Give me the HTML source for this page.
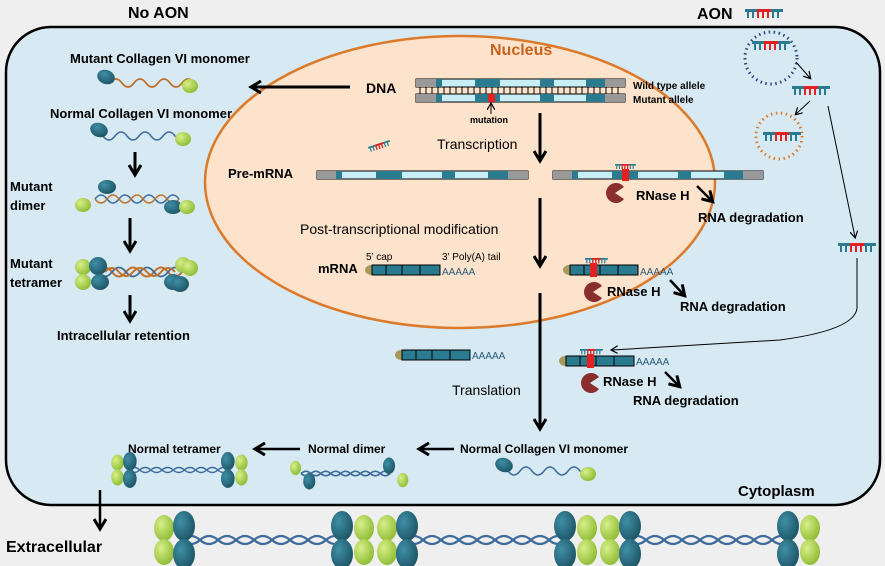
<!DOCTYPE html>
<html><head><meta charset="utf-8"><style>
html,body{margin:0;padding:0;background:#efefef;}
svg{display:block;font-family:"Liberation Sans",sans-serif;}
.b{font-weight:bold;}
</style></head><body>
<svg width="885" height="566" viewBox="0 0 885 566" xmlns="http://www.w3.org/2000/svg">
<defs>
<radialGradient id="tg" cx="0.35" cy="0.35" r="0.7"><stop offset="0" stop-color="#3f8fa5"/><stop offset="1" stop-color="#1d5566"/></radialGradient>
<radialGradient id="gg" cx="0.35" cy="0.35" r="0.7"><stop offset="0" stop-color="#d8ef8a"/><stop offset="1" stop-color="#8dbb32"/></radialGradient>
<marker id="ah" markerWidth="8" markerHeight="8" refX="6" refY="4" orient="auto" markerUnits="userSpaceOnUse"><path d="M0,0 L7,4 L0,8" fill="none" stroke="#000" stroke-width="1.2"/></marker>
<marker id="AH" markerWidth="14" markerHeight="14" refX="10" refY="7" orient="auto" markerUnits="userSpaceOnUse"><path d="M1,1 L11,7 L1,13" fill="none" stroke="#000" stroke-width="3"/></marker>
<g id="aon"><rect x="0" y="0" width="38" height="3" fill="#2a7a90"/><rect x="12" y="0" width="14" height="3" fill="#e52020"/>
<path d="M3,3v6M8,3v6M13,3v6M18,3v6M23,3v6M28,3v6M33,3v6" stroke="#2a7a90" stroke-width="2"/>
<path d="M13,3v6M18,3v6M23,3v6" stroke="#e52020" stroke-width="2"/></g>
<g id="mono"><path d="M10,3 q6,8 12,0 t12,0 t12,0 t12,0 t12,0 t12,0 t12,0" fill="none" stroke="#3d6a9a" stroke-width="1.5"/>
<ellipse cx="6" cy="-3" rx="9" ry="7" transform="rotate(20 6 -3)" fill="url(#tg)"/><ellipse cx="90" cy="6" rx="8" ry="7" fill="url(#gg)"/></g>
<g id="tet"><path d="M30,0 q9,-8 18,0 t18,0 t18,0 t18,0 t18,0 t18,0 t18,0 t18,0 t18,0" fill="none" stroke="#3d6a9a" stroke-width="2.2"/>
<path d="M30,0 q9,8 18,0 t18,0 t18,0 t18,0 t18,0 t18,0 t18,0 t18,0 t18,0" fill="none" stroke="#3d6a9a" stroke-width="2.2"/>
<ellipse cx="12" cy="-12" rx="10" ry="13" fill="url(#gg)"/><ellipse cx="12" cy="12" rx="10" ry="13" fill="url(#gg)"/>
<ellipse cx="32" cy="-14" rx="11" ry="15" fill="url(#tg)"/><ellipse cx="32" cy="14" rx="11" ry="15" fill="url(#tg)"/>
<ellipse cx="190" cy="-14" rx="11" ry="15" fill="url(#tg)"/><ellipse cx="190" cy="14" rx="11" ry="15" fill="url(#tg)"/>
<ellipse cx="212" cy="-12" rx="10" ry="13" fill="url(#gg)"/><ellipse cx="212" cy="12" rx="10" ry="13" fill="url(#gg)"/></g>
<g id="mrna"><ellipse cx="3" cy="5" rx="6" ry="5" fill="#a89a5c"/><rect x="4" y="0" width="68" height="10" fill="#2a7a90" stroke="#000" stroke-width="1"/>
<path d="M18,0v10M34,0v10M52,0v10" stroke="#000"/></g>
<g id="pac"><path d="M10,10 L19,4 A10,10 0 1 0 19,16 Z" fill="#8b2e2e"/></g>
</defs>
<rect width="885" height="566" fill="#efefef"/>
<rect x="6" y="27" width="874" height="478" rx="45" fill="#d7eaf4" stroke="#000" stroke-width="2.5"/>
<ellipse cx="460" cy="182" rx="255" ry="146" fill="#fde3cc" stroke="#dc7a2c" stroke-width="2.5"/>
<text x="128" y="18" class="b" font-size="16">No AON</text>
<text x="697" y="19" class="b" font-size="16">AON</text>
<use href="#aon" x="745" y="9"/>
<circle cx="771" cy="58" r="26" fill="none" stroke="#2b4b7c" stroke-width="3" stroke-dasharray="1.5 3.5"/>
<use href="#aon" x="752" y="41"/>
<circle cx="779" cy="136" r="23" fill="none" stroke="#e07b2a" stroke-width="3" stroke-dasharray="1.5 3.5"/>
<use href="#aon" x="763" y="132"/>
<use href="#aon" x="792" y="86"/>
<use href="#aon" x="838" y="243"/>
<line x1="796" y1="62" x2="810" y2="78" stroke="#000" marker-end="url(#ah)"/>
<line x1="810" y1="101" x2="796" y2="114" stroke="#000" marker-end="url(#ah)"/>
<line x1="828" y1="106" x2="855" y2="237" stroke="#000" marker-end="url(#ah)"/>
<path d="M857,258 L857,308 Q855,330 780,340 Q700,345 612,350" fill="none" stroke="#000" marker-end="url(#ah)"/>
<text x="490" y="55" class="b" font-size="16" fill="#c8621c">Nucleus</text>
<text x="366" y="93" class="b" font-size="14">DNA</text>
<g stroke="#000" stroke-width="1">
<rect x="416" y="79" width="209" height="8" fill="#c8eef8"/>
<rect x="416" y="94" width="209" height="8" fill="#c8eef8"/>
</g>
<g fill="#2a7a90"><rect x="416" y="79" width="20" height="8" fill="#999"/><rect x="436" y="79" width="6" height="8"/><rect x="475" y="79" width="25" height="8"/><rect x="540" y="79" width="14" height="8"/><rect x="586" y="79" width="19" height="8"/><rect x="605" y="79" width="20" height="8" fill="#999"/>
<rect x="416" y="94" width="20" height="8" fill="#999"/><rect x="436" y="94" width="6" height="8"/><rect x="475" y="94" width="25" height="8"/><rect x="540" y="94" width="14" height="8"/><rect x="586" y="94" width="19" height="8"/><rect x="605" y="94" width="20" height="8" fill="#999"/></g>
<rect x="488" y="94" width="7" height="8" fill="#e52020"/>
<path d="M420,87v7M426,87v7M432,87v7M438,87v7M444,87v7M450,87v7M456,87v7M462,87v7M468,87v7M474,87v7M480,87v7M486,87v7M492,87v7M498,87v7M504,87v7M510,87v7M516,87v7M522,87v7M528,87v7M534,87v7M540,87v7M546,87v7M552,87v7M558,87v7M564,87v7M570,87v7M576,87v7M582,87v7M588,87v7M594,87v7M600,87v7M606,87v7M612,87v7M618,87v7" stroke="#000" stroke-width="1"/>
<text x="633" y="89" class="b" font-size="10">Wild type allele</text>
<text x="633" y="103" class="b" font-size="10">Mutant allele</text>
<line x1="491" y1="114" x2="491" y2="104" stroke="#000" marker-end="url(#ah)"/>
<text x="470" y="123" class="b" font-size="9">mutation</text>
<text x="437" y="149" font-size="14">Transcription</text>
<line x1="540" y1="113" x2="540" y2="160" stroke="#000" stroke-width="3" marker-end="url(#AH)"/>
<use href="#aon" x="0" y="0" transform="translate(368,147) rotate(-18) scale(0.6)"/>
<text x="228" y="178" class="b" font-size="13">Pre-mRNA</text>
<g stroke="#000" stroke-width="1"><rect x="317" y="171" width="211" height="8" fill="#c8eef8"/><rect x="553" y="171" width="210" height="8" fill="#c8eef8"/></g>
<g fill="#2a7a90"><rect x="317" y="171" width="19" height="8" fill="#999"/><rect x="336" y="171" width="6" height="8"/><rect x="376" y="171" width="26" height="8"/><rect x="442" y="171" width="13" height="8"/><rect x="488" y="171" width="20" height="8"/><rect x="508" y="171" width="20" height="8" fill="#999"/>
<rect x="553" y="171" width="19" height="8" fill="#999"/><rect x="572" y="171" width="6" height="8"/><rect x="612" y="171" width="26" height="8"/><rect x="678" y="171" width="13" height="8"/><rect x="724" y="171" width="19" height="8"/><rect x="743" y="171" width="20" height="8" fill="#999"/></g>
<rect x="622" y="169" width="7" height="12" fill="#e52020"/>
<use href="#aon" transform="translate(615,164) scale(0.55)"/>
<use href="#pac" x="605" y="183"/>
<text x="636" y="200" class="b" font-size="13">RNase H</text>
<line x1="697" y1="186" x2="712" y2="201" stroke="#000" stroke-width="2.5" marker-end="url(#AH)"/>
<text x="698" y="222" class="b" font-size="13">RNA degradation</text>
<text x="300" y="234" font-size="14">Post-transcriptional modification</text>
<line x1="540" y1="198" x2="540" y2="265" stroke="#000" stroke-width="3" marker-end="url(#AH)"/>
<text x="318" y="273" class="b" font-size="13">mRNA</text>
<text x="366" y="260" font-size="10">5’ cap</text>
<text x="442" y="260" font-size="10">3’ Poly(A) tail</text>
<use href="#mrna" x="368" y="265"/>
<text x="442" y="275" font-size="10" fill="#2a5a7a">AAAAA</text>
<use href="#mrna" x="566" y="265"/>
<rect x="590" y="263" width="7" height="14" fill="#e52020"/>
<use href="#aon" transform="translate(585,258) scale(0.6)"/>
<text x="640" y="275" font-size="10" fill="#2a5a7a">AAAAA</text>
<use href="#pac" x="583" y="282"/>
<text x="607" y="296" class="b" font-size="13">RNase H</text>
<line x1="670" y1="280" x2="684" y2="295" stroke="#000" stroke-width="2.5" marker-end="url(#AH)"/>
<text x="680" y="311" class="b" font-size="13">RNA degradation</text>
<line x1="540" y1="293" x2="540" y2="428" stroke="#000" stroke-width="3" marker-end="url(#AH)"/>
<use href="#mrna" x="398" y="350"/>
<text x="472" y="359" font-size="10" fill="#2a5a7a">AAAAA</text>
<use href="#mrna" x="562" y="356"/>
<rect x="587" y="354" width="7" height="14" fill="#e52020"/>
<use href="#aon" transform="translate(580,349) scale(0.6)"/>
<text x="636" y="365" font-size="10" fill="#2a5a7a">AAAAA</text>
<use href="#pac" x="580" y="373"/>
<text x="603" y="386" class="b" font-size="13">RNase H</text>
<line x1="665" y1="372" x2="679" y2="386" stroke="#000" stroke-width="2.5" marker-end="url(#AH)"/>
<text x="633" y="405" class="b" font-size="13">RNA degradation</text>
<text x="452" y="395" font-size="14">Translation</text>
<text x="460" y="453" class="b" font-size="12">Normal Collagen VI monomer</text>
<use href="#mono" x="498" y="468"/>
<line x1="454" y1="449" x2="420" y2="449" stroke="#000" stroke-width="2.5" marker-end="url(#AH)"/>
<text x="308" y="453" class="b" font-size="12">Normal dimer</text>
<line x1="300" y1="449" x2="256" y2="449" stroke="#000" stroke-width="2.5" marker-end="url(#AH)"/>
<text x="128" y="453" class="b" font-size="12">Normal tetramer</text>
<g transform="translate(290,468) scale(0.55)"><path d="M20,10 q9,-8 18,0 t18,0 t18,0 t18,0 t18,0 t18,0 t18,0 t18,0 t18,0" fill="none" stroke="#3d6a9a" stroke-width="3"/><path d="M20,10 q9,8 18,0 t18,0 t18,0 t18,0 t18,0 t18,0 t18,0 t18,0 t18,0" fill="none" stroke="#3d6a9a" stroke-width="3"/>
<ellipse cx="10" cy="0" rx="10" ry="13" fill="url(#gg)"/><ellipse cx="35" cy="24" rx="11" ry="15" fill="url(#tg)"/><ellipse cx="180" cy="-4" rx="11" ry="15" fill="url(#tg)"/><ellipse cx="205" cy="22" rx="10" ry="13" fill="url(#gg)"/></g>
<use href="#tet" transform="translate(110,470) scale(0.62)"/>
<text x="738" y="496" class="b" font-size="15">Cytoplasm</text>
<line x1="100" y1="490" x2="100" y2="528" stroke="#000" stroke-width="2.5" marker-end="url(#AH)"/>
<text x="6" y="552" class="b" font-size="16">Extracellular</text>
<use href="#tet" x="152" y="540"/>
<use href="#tet" x="375" y="540"/>
<use href="#tet" x="598" y="540"/>
<line x1="350" y1="87" x2="252" y2="87" stroke="#000" stroke-width="3" marker-end="url(#AH)"/>
<text x="70" y="63" class="b" font-size="13">Mutant Collagen VI monomer</text>
<g transform="translate(100,80)"><path d="M10,3 q6,-8 12,0 t12,0 t12,0 t12,0 t12,0 t12,0 t12,0" fill="none" stroke="#c0702a" stroke-width="1.8"/>
<ellipse cx="6" cy="-3" rx="9" ry="7" transform="rotate(20 6 -3)" fill="url(#tg)"/><ellipse cx="90" cy="6" rx="8" ry="7" fill="url(#gg)"/></g>
<text x="50" y="118" class="b" font-size="13">Normal Collagen VI monomer</text>
<use href="#mono" x="93" y="133"/>
<line x1="135" y1="152" x2="135" y2="174" stroke="#000" stroke-width="3" marker-end="url(#AH)"/>
<text x="10" y="191" class="b" font-size="13">Mutant</text>
<text x="10" y="210" class="b" font-size="13">dimer</text>
<g transform="translate(75,195)"><path d="M20,4 q6,-8 12,0 t12,0 t12,0 t12,0 t12,0 t12,0 t12,0" fill="none" stroke="#3d6a9a" stroke-width="1.5"/><path d="M20,4 q6,8 12,0 t12,0 t12,0 t12,0 t12,0 t12,0 t12,0" fill="none" stroke="#c0702a" stroke-width="1.5"/>
<ellipse cx="32" cy="-8" rx="9" ry="7" fill="url(#tg)"/><ellipse cx="8" cy="10" rx="8" ry="7" fill="url(#gg)"/><ellipse cx="98" cy="12" rx="9" ry="7" fill="url(#tg)"/><ellipse cx="112" cy="12" rx="8" ry="7" fill="url(#gg)"/></g>
<line x1="130" y1="218" x2="130" y2="250" stroke="#000" stroke-width="3" marker-end="url(#AH)"/>
<text x="10" y="268" class="b" font-size="13">Mutant</text>
<text x="10" y="287" class="b" font-size="13">tetramer</text>
<g transform="translate(78,272)"><path d="M20,0 q7,-9 14,0 t14,0 t14,0 t14,0 t14,0 t14,0" fill="none" stroke="#c0702a" stroke-width="2"/><path d="M20,0 q7,9 14,0 t14,0 t14,0 t14,0 t14,0 t14,0" fill="none" stroke="#3d6a9a" stroke-width="1.8"/><path d="M27,0 q7,-8 14,0 t14,0 t14,0 t14,0 t14,0" fill="none" stroke="#c0702a" stroke-width="2"/>
<ellipse cx="5" cy="-5" rx="8" ry="8" fill="url(#gg)"/><ellipse cx="5" cy="10" rx="8" ry="8" fill="url(#gg)"/><ellipse cx="20" cy="-6" rx="9" ry="9" fill="url(#tg)"/><ellipse cx="22" cy="10" rx="9" ry="8" fill="url(#tg)"/>
<ellipse cx="95" cy="10" rx="9" ry="8" fill="url(#tg)"/><ellipse cx="102" cy="12" rx="9" ry="8" fill="url(#tg)"/><ellipse cx="105" cy="-7" rx="8" ry="8" fill="url(#gg)"/><ellipse cx="112" cy="-4" rx="8" ry="8" fill="url(#gg)"/></g>
<line x1="130" y1="295" x2="130" y2="320" stroke="#000" stroke-width="3" marker-end="url(#AH)"/>
<text x="57" y="340" class="b" font-size="13">Intracellular retention</text>
</svg>
</body></html>
